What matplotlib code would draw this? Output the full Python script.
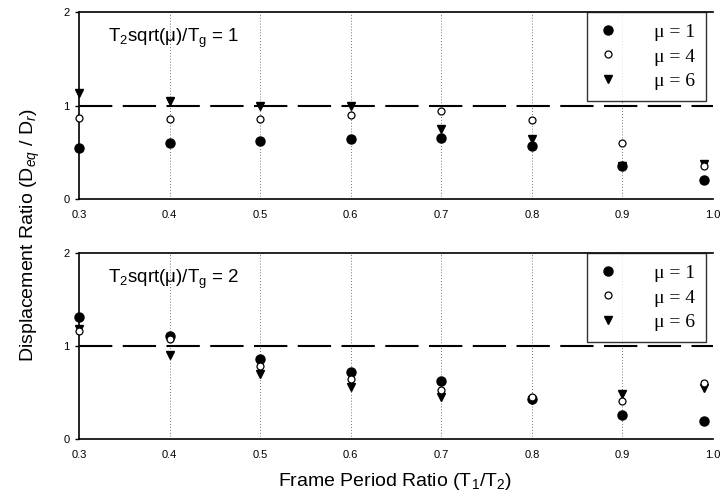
import numpy as np
from matplotlib import pyplot as plt

plt.rcParams['font.family'] = ['Liberation Sans', 'DejaVu Sans']
plt.rcParams['mathtext.fontset'] = 'custom'
plt.rcParams['mathtext.rm'] = 'Liberation Sans'
plt.rcParams['mathtext.it'] = 'Liberation Sans:italic'

## Data
frame_ratio = [0.3, 0.4, 0.5, 0.6, 0.7, 0.8, 0.9, 0.99]
x_ticks = [0.3, 0.4, 0.5, 0.6, 0.7, 0.8, 0.9, 1.0]
y_ticks = [0, 1, 2]
mu_labels = [u"\u03bc = 1", u"\u03bc = 4", u"\u03bc = 6"]
panel_titles = [u"T$_2$sqrt(\u03bc)/T$_\\mathrm{g}$ = 1",
                u"T$_2$sqrt(\u03bc)/T$_\\mathrm{g}$ = 2"]

## Tg ratio = 1
top_mu1 = [0.55, 0.60, 0.62, 0.64, 0.65, 0.57, 0.35, 0.20]
top_mu4 = [0.87, 0.86, 0.86, 0.90, 0.94, 0.84, 0.60, 0.35]
top_mu6 = [1.13, 1.05, 0.99, 0.99, 0.75, 0.64, 0.35, 0.37]

## Tg ratio = 2
bot_mu1 = [1.31, 1.11, 0.86, 0.72, 0.62, 0.43, 0.26, 0.19]
bot_mu4 = [1.16, 1.07, 0.78, 0.65, 0.53, 0.45, 0.41, 0.60]
bot_mu6 = [1.18, 0.90, 0.70, 0.56, 0.45, 0.42, 0.48, 0.55]

panels = [(top_mu1, top_mu4, top_mu6), (bot_mu1, bot_mu4, bot_mu6)]

fig = plt.figure(figsize=(7.2, 5.0), dpi=100)
ax_top = fig.add_axes([0.1097, 0.602, 0.8806, 0.374])
ax_bot = fig.add_axes([0.1097, 0.122, 0.8806, 0.372])

for ax, (s1, s4, s6), title in zip([ax_top, ax_bot], panels, panel_titles):
    ## dotted verticals at each frame ratio
    for xv in x_ticks[1:-1]:
        ax.plot([xv, xv], [0, 2], color='#444444', lw=0.6, linestyle=(0, (1, 2.5)), zorder=1)
    ## reference line at ratio = 1
    ax.plot([0.3, 1.0], [1, 1], color='black', lw=1.5, dashes=(16, 5), zorder=2)

    h1, = ax.plot(frame_ratio, s1, 'o', color='black', ms=6.5, zorder=3, clip_on=False)
    h6, = ax.plot(frame_ratio, s6, 'v', color='black', ms=6, zorder=4, clip_on=False)
    h4, = ax.plot(frame_ratio, s4, 'o', mfc='white', mec='black', mew=0.9, ms=5, zorder=5,
                  clip_on=False)

    ax.set_xlim(0.3, 1.0)
    ax.set_ylim(0, 2)
    ax.set_xticks(x_ticks)
    ax.set_xticklabels(["%.1f" % v for v in x_ticks])
    ax.set_yticks(y_ticks)
    ax.tick_params(axis='both', labelsize=8, length=3, width=1, pad=4)
    ax.tick_params(axis='x', length=0, pad=8)
    ax.spines['right'].set_visible(False)
    for side in ['left', 'bottom', 'top']:
        ax.spines[side].set_linewidth(1.2)

    ax.text(0.045, 0.86, title, transform=ax.transAxes, fontsize=13.5, va='center', ha='left')

    leg = ax.legend([h1, h4, h6], mu_labels, loc='upper right', bbox_to_anchor=(0.989, 1.0),
                    prop={'family': 'Liberation Serif', 'size': 14}, frameon=True, fancybox=False,
                    edgecolor='black', handlelength=1.0, handletextpad=1.9, borderpad=0.55,
                    borderaxespad=0.0, labelspacing=0.28, handleheight=0.9)
    leg.get_frame().set_linewidth(1.0)
    leg.set_zorder(10)

fig.text(30 / 720., 1 - 235 / 500., r"Displacement Ratio (D$_{eq}$ / D$_{r}$)",
         rotation=90, ha='center', va='center', fontsize=14)
fig.text(395 / 720., 1 - 482 / 500., r"Frame Period Ratio (T$_1$/T$_2$)",
         ha='center', va='center', fontsize=14)

plt.savefig('out.png', dpi=100)
